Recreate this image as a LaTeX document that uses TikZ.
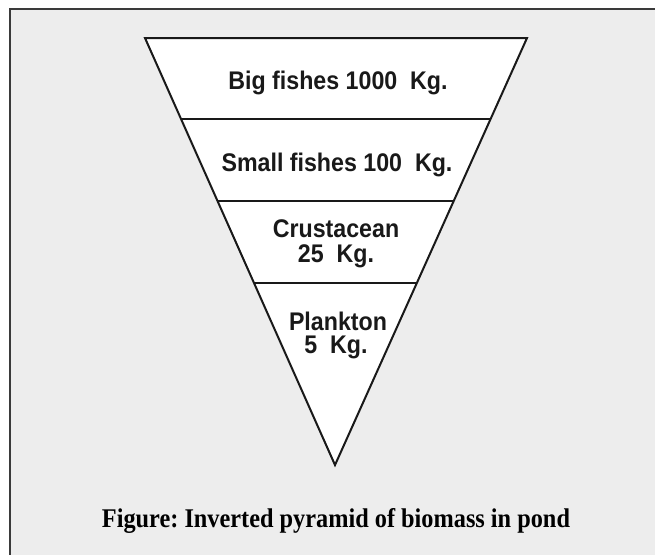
\documentclass[tikz,border=0pt]{standalone}
\usepackage{fontspec}
\setmainfont{Liberation Serif}
\newfontfamily\lblfont[FakeStretch=0.91]{Liberation Sans}
\newfontfamily\capfont[FakeStretch=0.9]{Liberation Serif}
\usetikzlibrary{calc}
\definecolor{bggray}{HTML}{EDEDED}
\definecolor{framegray}{HTML}{3A3A3A}
\tikzset{
  lbl/.style={anchor=base, inner sep=0pt, font=\lblfont\bfseries\fontsize{25.5}{27}\selectfont, text=black!90},
  captxt/.style={anchor=base, inner sep=0pt, font=\frenchspacing\capfont\bfseries\fontsize{27}{29}\selectfont, text=black},
  tri/.style={draw=black!90, line width=2pt, line join=miter},
  divider/.style={draw=black!90, line width=2pt}
}
\begin{document}
\begin{tikzpicture}[x=1pt,y=-1pt]
\useasboundingbox (0,0) rectangle (655,554);
\clip (0,0) rectangle (655,554);
\fill[white] (0,0) rectangle (655,554);
\filldraw[fill=bggray, draw=framegray, line width=2pt] (10,9) rectangle (700,600);
\coordinate (tl) at (145,38);
\coordinate (tr) at (527,38);
\coordinate (ap) at (335,465);
\filldraw[tri, fill=white] (tl) -- (tr) -- (ap) -- cycle;
\coordinate (l1) at ($(tl)!0.1897!(ap)$);
\coordinate (r1) at ($(tr)!0.1897!(ap)$);
\coordinate (l2) at ($(tl)!0.3806!(ap)$);
\coordinate (r2) at ($(tr)!0.3806!(ap)$);
\coordinate (l3) at ($(tl)!0.5738!(ap)$);
\coordinate (r3) at ($(tr)!0.5738!(ap)$);
\draw[divider] (l1) -- (r1);
\draw[divider] (l2) -- (r2);
\draw[divider] (l3) -- (r3);
\node[lbl] (big) at (338,89) {Big fishes 1000\ \ Kg.};
\node[lbl] (small) at (337,171) {Small fishes 100\ \ Kg.};
\node[lbl] (crus) at (336,237) {Crustacean};
\node[lbl] (crusw) at (336,262) {25\ \ Kg.};
\node[lbl] (plank) at (338,330) {Plankton};
\node[lbl] (plankw) at (336,353) {5\ \ Kg.};
\node[captxt] (cap) at (336,527) {Figure: Inverted pyramid of biomass in pond};
\end{tikzpicture}
\end{document}
